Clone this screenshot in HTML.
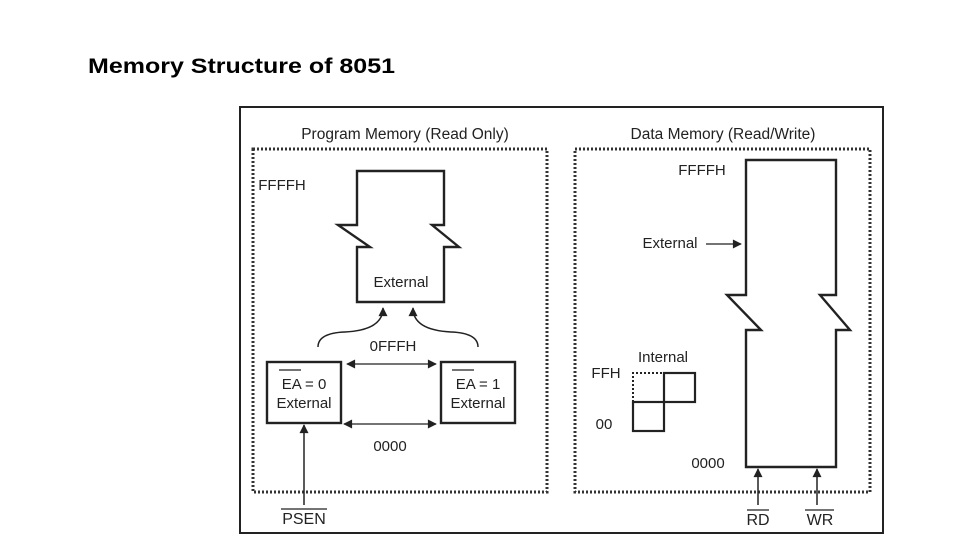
<!DOCTYPE html>
<html><head><meta charset="utf-8"><style>
html,body{margin:0;padding:0;background:#fff;}
svg{display:block;}
text{font-family:"Liberation Sans",Arial,sans-serif;fill:#222;}
</style></head><body>
<svg width="960" height="540" viewBox="0 0 960 540" xmlns="http://www.w3.org/2000/svg">
<defs>
<marker id="ah" viewBox="0 0 10 10" refX="9" refY="5" markerWidth="10" markerHeight="9" orient="auto-start-reverse" markerUnits="userSpaceOnUse">
<path d="M0,0 L10,5 L0,10 z" fill="#222"/></marker>
</defs>
<text x="88" y="73" font-size="21" font-weight="bold" textLength="307" lengthAdjust="spacingAndGlyphs" style="fill:#000">Memory Structure of 8051</text>

<rect x="240" y="107" width="643" height="426" fill="none" stroke="#222" stroke-width="2"/>
<rect x="253" y="149" width="294" height="343" fill="none" stroke="#333" stroke-width="3" stroke-dasharray="2,2"/>
<rect x="575" y="149" width="295" height="343" fill="none" stroke="#333" stroke-width="3" stroke-dasharray="2,2"/>

<text x="405" y="139" font-size="15.5" text-anchor="middle">Program Memory (Read Only)</text>
<text x="723" y="139" font-size="15.5" text-anchor="middle">Data Memory (Read/Write)</text>

<path d="M357,302 L357,247 L370,247 L338,225 L357,225 L357,171 L444,171 L444,225 L432,225 L459,247 L444,247 L444,302 Z" fill="none" stroke="#222" stroke-width="2.4"/>
<text x="282" y="190" font-size="15" text-anchor="middle">FFFFH</text>
<text x="401" y="287" font-size="15" text-anchor="middle">External</text>
<path d="M318,347 Q318,333 345,332 Q383,330 383,308" fill="none" stroke="#222" stroke-width="1.5" marker-end="url(#ah)"/>
<path d="M478,347 Q478,333 451,332 Q413,330 413,308" fill="none" stroke="#222" stroke-width="1.5" marker-end="url(#ah)"/>
<text x="393" y="351" font-size="15" text-anchor="middle">0FFFH</text>

<rect x="267" y="362" width="74" height="61" fill="none" stroke="#222" stroke-width="2.4"/>
<rect x="441" y="362" width="74" height="61" fill="none" stroke="#222" stroke-width="2.4"/>
<line x1="279" y1="370" x2="301" y2="370" stroke="#222" stroke-width="1.2"/>
<text x="304" y="389" font-size="15" text-anchor="middle">EA = 0</text>
<text x="304" y="408" font-size="15" text-anchor="middle">External</text>
<line x1="452" y1="370" x2="474" y2="370" stroke="#222" stroke-width="1.2"/>
<text x="478" y="389" font-size="15" text-anchor="middle">EA = 1</text>
<text x="478" y="408" font-size="15" text-anchor="middle">External</text>
<line x1="347" y1="364" x2="436" y2="364" stroke="#222" stroke-width="1.3" marker-start="url(#ah)" marker-end="url(#ah)"/>
<line x1="344" y1="424" x2="436" y2="424" stroke="#222" stroke-width="1.3" marker-start="url(#ah)" marker-end="url(#ah)"/>
<text x="390" y="451" font-size="15" text-anchor="middle">0000</text>
<line x1="304" y1="505" x2="304" y2="425" stroke="#222" stroke-width="1.5" marker-end="url(#ah)"/>
<line x1="281" y1="509" x2="327" y2="509" stroke="#222" stroke-width="1.2"/>
<text x="304" y="524" font-size="16" text-anchor="middle">PSEN</text>

<path d="M746,467 L746,330 L761,330 L727,295 L746,295 L746,160 L836,160 L836,295 L820,295 L850,330 L836,330 L836,467 Z" fill="none" stroke="#222" stroke-width="2.4"/>
<text x="702" y="175" font-size="15" text-anchor="middle">FFFFH</text>
<text x="670" y="248" font-size="15" text-anchor="middle">External</text>
<line x1="706" y1="244" x2="741" y2="244" stroke="#222" stroke-width="1.3" marker-end="url(#ah)"/>
<text x="663" y="362" font-size="15" text-anchor="middle">Internal</text>
<text x="606" y="378" font-size="15" text-anchor="middle">FFH</text>
<text x="604" y="429" font-size="15" text-anchor="middle">00</text>
<path d="M633,402 L633,373 L664,373" fill="none" stroke="#222" stroke-width="2" stroke-dasharray="2,2"/>
<rect x="664" y="373" width="31" height="29" fill="none" stroke="#222" stroke-width="2.2"/>
<rect x="633" y="402" width="31" height="29" fill="none" stroke="#222" stroke-width="2.2"/>
<text x="708" y="468" font-size="15" text-anchor="middle">0000</text>
<line x1="758" y1="505" x2="758" y2="469" stroke="#222" stroke-width="1.5" marker-end="url(#ah)"/>
<line x1="817" y1="505" x2="817" y2="469" stroke="#222" stroke-width="1.5" marker-end="url(#ah)"/>
<line x1="747" y1="510" x2="769" y2="510" stroke="#222" stroke-width="1.2"/>
<text x="758" y="525" font-size="16" text-anchor="middle">RD</text>
<line x1="805" y1="510" x2="834" y2="510" stroke="#222" stroke-width="1.2"/>
<text x="820" y="525" font-size="16" text-anchor="middle">WR</text>
</svg>
</body></html>
